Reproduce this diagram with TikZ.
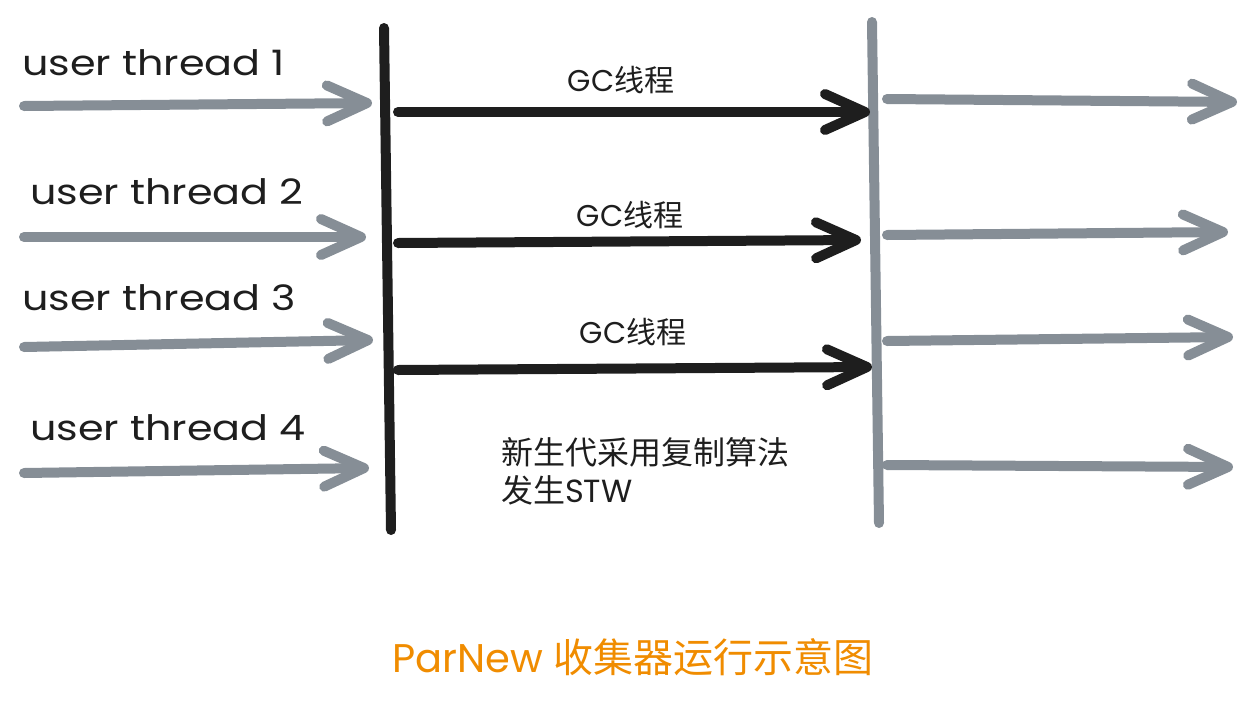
\documentclass[tikz,border=0pt]{standalone}
\usepackage{fontspec}
\setmainfont{Poppins}
\newfontfamily\cjk{Noto Sans CJK SC}
\usetikzlibrary{arrows.meta}
\definecolor{inkblack}{HTML}{1E1E1E}
\definecolor{inkgray}{HTML}{868E96}
\definecolor{inkorange}{HTML}{F08C00}
\newcommand{\wide}[1]{\scalebox{1.18}[1]{#1}}
\tikzset{
  barb/.tip={Straight Barb[length=40pt,width=36pt,round]},
  userflow/.style={draw=inkgray,line width=10pt,line cap=round,-barb},
  gcflow/.style={draw=inkblack,line width=10pt,line cap=round,-barb},
  barline/.style={line width=10pt,line cap=round},
  threadlabel/.style={anchor=west,inner sep=0pt,font=\fontsize{35}{40}\selectfont,text=inkblack},
  gclabel/.style={inner sep=0pt,font=\fontsize{30}{34}\selectfont,text=inkblack},
}
\begin{document}
\begin{tikzpicture}[x=1pt,y=-1pt]
\useasboundingbox (0,0) rectangle (1254,705);

% pause barriers: start (black) and end (gray) of the collection
\coordinate (stopTop) at (384,28);
\coordinate (stopBot) at (391,530);
\coordinate (resumeTop) at (872,22);
\coordinate (resumeBot) at (879,523);
\draw[barline,draw=inkblack] (stopTop) -- (stopBot);
\draw[barline,draw=inkgray] (resumeTop) -- (resumeBot);

% user threads arriving at the safepoint
\coordinate (u1s) at (24,106); \coordinate (u1e) at (372,103);
\coordinate (u2s) at (24,237); \coordinate (u2e) at (366,237);
\coordinate (u3s) at (24,347); \coordinate (u3e) at (373,340);
\coordinate (u4s) at (24,473); \coordinate (u4e) at (369,468);
\draw[userflow] (u1s) -- (u1e);
\draw[userflow] (u2s) -- (u2e);
\draw[userflow] (u3s) -- (u3e);
\draw[userflow] (u4s) -- (u4e);

\node[threadlabel] (ut1) at (22,63) {\wide{user thread 1}};
\node[threadlabel] (ut2) at (30,192) {\wide{user thread 2}};
\node[threadlabel] (ut3) at (22,298) {\wide{user thread 3}};
\node[threadlabel] (ut4) at (30,428) {\wide{user thread 4}};

% parallel GC threads
\coordinate (g1s) at (398,112); \coordinate (g1e) at (870,112);
\coordinate (g2s) at (398,243); \coordinate (g2e) at (861,240);
\coordinate (g3s) at (398,370); \coordinate (g3e) at (872,367);
\draw[gcflow] (g1s) -- (g1e);
\draw[gcflow] (g2s) -- (g2e);
\draw[gcflow] (g3s) -- (g3e);

\node[gclabel] (gc1) at (621,80) {GC{\cjk 线程}};
\node[gclabel] (gc2) at (630,215) {GC{\cjk 线程}};
\node[gclabel] (gc3) at (633,332) {GC{\cjk 线程}};

% user threads resuming
\coordinate (r1s) at (887,99);  \coordinate (r1e) at (1237,102);
\coordinate (r2s) at (887,235); \coordinate (r2e) at (1228,232);
\coordinate (r3s) at (887,341); \coordinate (r3e) at (1233,337);
\coordinate (r4s) at (887,465); \coordinate (r4e) at (1233,467);
\draw[userflow] (r1s) -- (r1e);
\draw[userflow] (r2s) -- (r2e);
\draw[userflow] (r3s) -- (r3e);
\draw[userflow] (r4s) -- (r4e);

% note on the young generation
\node[anchor=west,inner sep=0pt,align=left,text=inkblack,
      font=\cjk\fontsize{32}{38}\selectfont] (note) at (501,471)
  {新生代采用复制算法\\发生{\rmfamily STW}};

% caption
\node[inner sep=0pt,text=inkorange,font=\fontsize{40}{46}\selectfont] (title) at (633,657)
  {ParNew {\cjk 收集器运行示意图}};
\end{tikzpicture}
\end{document}
